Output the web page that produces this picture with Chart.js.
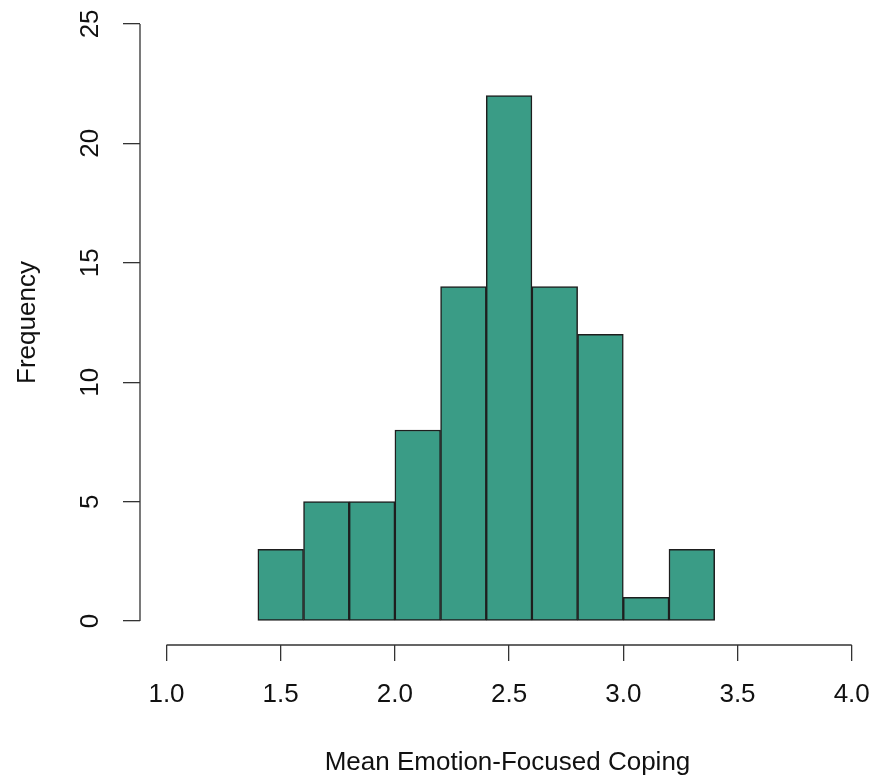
<!DOCTYPE html>
<html>
<head>
<meta charset="utf-8">
<title>Mean Emotion-Focused Coping</title>
<script src="https://cdn.jsdelivr.net/npm/chart.js@4/dist/chart.umd.min.js"></script>
<style>
  html, body { margin: 0; padding: 0; background: #ffffff; overflow: hidden; }
  #wrap { width: 875px; height: 778px; }
</style>
</head>
<body>
<div id="wrap"><canvas id="hist" width="875" height="778"></canvas></div>
<script>
// Histogram bins (width 0.2, from 1.4 to 3.4): centres and counts
const binCenters = [1.5, 1.7, 1.9, 2.1, 2.3, 2.5, 2.7, 2.9, 3.1, 3.3];
const frequencies = [3, 5, 5, 8, 14, 22, 14, 12, 1, 3];

// Axis tick labels
const xTicks = [1.0, 1.5, 2.0, 2.5, 3.0, 3.5, 4.0];
const yTicks = [0, 5, 10, 15, 20, 25];

const xTitle = 'Mean Emotion-Focused Coping';
const yTitle = 'Frequency';

const FONT = '"Liberation Sans", Arial, Helvetica, sans-serif';
const INK = '#111111';
const AXIS = '#333333';

// Draws the axis lines spanning only the first to last tick, base-graphics style
const axisLines = {
  id: 'axisLines',
  afterDraw(chart) {
    const { ctx, chartArea, scales } = chart;
    const xs = scales.x, ys = scales.y;
    ctx.save();
    ctx.strokeStyle = AXIS;
    ctx.lineWidth = 1.3;
    ctx.beginPath();
    ctx.moveTo(xs.getPixelForValue(xTicks[0]), chartArea.bottom);
    ctx.lineTo(xs.getPixelForValue(xTicks[xTicks.length - 1]), chartArea.bottom);
    ctx.moveTo(chartArea.left, ys.getPixelForValue(yTicks[0]));
    ctx.lineTo(chartArea.left, ys.getPixelForValue(yTicks[yTicks.length - 1]));
    ctx.stroke();
    ctx.restore();
  }
};

new Chart(document.getElementById('hist'), {
  type: 'bar',
  data: {
    datasets: [{
      data: binCenters.map((c, i) => ({ x: c, y: frequencies[i] })),
      backgroundColor: '#3a9c86',
      borderColor: '#1e1e1e',
      borderWidth: 1.5,
      borderSkipped: false,
      barPercentage: 1.0,
      categoryPercentage: 1.0
    }]
  },
  options: {
    responsive: false,
    animation: false,
    events: [],
    layout: { padding: 0 },
    plugins: {
      legend: { display: false },
      tooltip: { enabled: false },
      title: { display: false }
    },
    scales: {
      x: {
        type: 'linear',
        position: 'bottom',
        offset: false,
        min: 0.884,
        max: 4.102,
        afterBuildTicks: (s) => { s.ticks = xTicks.map(v => ({ value: v })); },
        afterFit: (s) => {
          s.height = 133;
          s.paddingLeft = 0; s.paddingRight = 0;
        },
        border: { display: false },
        grid: {
          offset: false,
          drawOnChartArea: false,
          drawTicks: true,
          tickLength: 16,
          color: AXIS,
          lineWidth: 1.3
        },
        ticks: {
          color: INK,
          font: { family: FONT, size: 26 },
          padding: 18,
          maxRotation: 0,
          minRotation: 0,
          autoSkip: false,
          callback: (v) => Number(v).toFixed(1)
        },
        title: {
          display: true,
          text: xTitle,
          color: INK,
          font: { family: FONT, size: 26 },
          padding: { top: 0, bottom: 0 }
        }
      },
      y: {
        type: 'linear',
        position: 'left',
        min: -1,
        max: 26,
        afterBuildTicks: (s) => { s.ticks = yTicks.map(v => ({ value: v })); },
        afterFit: (s) => {
          s.width = 140;
          s.paddingTop = 0; s.paddingBottom = 0;
        },
        border: { display: false },
        grid: {
          drawOnChartArea: false,
          drawTicks: true,
          tickLength: 17,
          color: AXIS,
          lineWidth: 1.3
        },
        ticks: {
          color: INK,
          font: { family: FONT, size: 26 },
          padding: 18,
          minRotation: 90,
          maxRotation: 90,
          crossAlign: 'center',
          autoSkip: false,
          callback: (v) => String(v)
        },
        title: {
          display: true,
          text: yTitle,
          color: INK,
          font: { family: FONT, size: 26 },
          padding: { top: 12, bottom: 0 }
        }
      }
    }
  },
  plugins: [axisLines]
});
</script>
</body>
</html>
